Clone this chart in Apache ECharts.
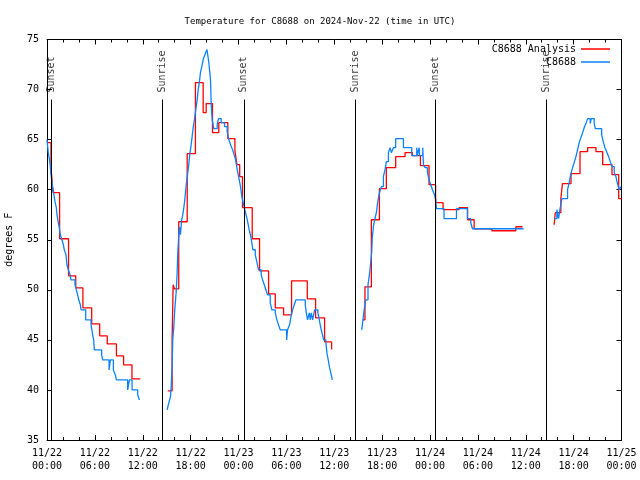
<!DOCTYPE html>
<html>
<head>
<meta charset="utf-8">
<script src="https://cdn.jsdelivr.net/npm/echarts@6/dist/echarts.min.js"></script>
<style>html,body{margin:0;padding:0;background:#fff}#c{width:640px;height:480px}</style>
</head>
<body>
<div id="c"></div>
<script>
// time in hours from 11/22 00:00 UTC, temperature in degrees F
const tickLabels = ['11/22\n00:00','11/22\n06:00','11/22\n12:00','11/22\n18:00','11/23\n00:00','11/23\n06:00','11/23\n12:00','11/23\n18:00','11/24\n00:00','11/24\n06:00','11/24\n12:00','11/24\n18:00','11/25\n00:00'];
const sunLabels = ['Sunset','Sunrise','Sunset','Sunrise','Sunset','Sunrise'];
const sunTimes = [0.58, 14.5, 24.67, 38.6, 48.68, 62.56];

const analysis1 = [[0.05,64.7],[0.5,62.2],[0.75,59.7],[1.58,55.1],[2.7,51.4],[3.6,50.2],[4.5,48.2],[5.6,46.6],[6.6,45.4],[7.55,44.6],[8.7,43.4],[9.6,42.5],[10.65,41.1],[11.7,41.1]];
const analysis2 = [[15.13,39.9],[15.68,45.0],[15.81,50.5],[15.97,50.1],[16.51,56.8],[17.57,63.6],[18.6,70.7],[19.57,67.7],[19.95,68.6],[20.74,65.7],[21.53,66.7],[22.66,65.1],[23.55,63.9],[23.8,62.5],[24.15,61.3],[24.5,58.2],[25.72,55.1],[26.64,51.9],[27.77,49.6],[28.61,48.2],[29.65,47.5],[30.65,50.9],[32.62,49.1],[33.66,47.2],[34.79,44.8],[35.67,44.1],[35.76,44.1]];
const analysis3 = [[39.56,47.0],[39.85,50.3],[40.65,57.0],[41.66,60.1],[42.53,62.2],[43.7,63.3],[44.87,63.7],[45.8,63.4],[46.8,62.4],[47.88,60.5],[48.7,58.7],[49.64,58.0],[51.64,58.2],[52.7,57.0],[53.53,56.1],[55.75,55.9],[58.76,56.3],[59.6,56.3]];
const analysis4 = [[63.56,56.5],[63.7,57.7],[64.4,59.1],[64.6,60.6],[65.67,61.6],[66.8,63.8],[67.75,64.2],[68.8,63.8],[69.64,62.5],[70.81,61.5],[71.65,59.1],[72,59.1]];

const obs1 = [[0,65.0],[0.16,63.7],[0.37,62.7],[0.5,61.5],[0.66,60.5],[0.83,59.7],[1.0,58.8],[1.17,58.2],[1.25,57.5],[1.42,56.7],[1.54,56.2],[1.67,55.5],[1.84,55.1],[2.05,54.5],[2.17,54.0],[2.38,53.5],[2.5,52.5],[2.67,52.0],[2.89,51.5],[3.0,51.0],[3.51,50.5],[3.68,50.0],[3.84,49.5],[3.97,49.0],[4.18,48.5],[4.27,48.0],[4.85,47.0],[5.52,46.5],[5.72,45.5],[5.85,45.0],[5.93,44.0],[6.85,43.5],[6.98,43.0],[7.78,42.0],[7.94,43.0],[8.32,42.0],[8.57,41.5],[8.7,41.0],[10.11,40.0],[10.33,41.0],[10.66,40.0],[11.37,39.5],[11.58,39.0],[11.65,39.0]];
const obs2 = [[15.06,38.0],[15.26,38.7],[15.47,39.3],[15.56,40.3],[15.68,42.3],[15.76,45.0],[15.89,46.3],[16.01,48.0],[16.19,49.8],[16.31,51.7],[16.39,53.7],[16.51,55.3],[16.6,56.3],[16.73,55.5],[16.85,56.8],[17.06,57.7],[17.23,58.7],[17.35,59.7],[17.48,60.7],[17.64,61.7],[17.77,62.5],[17.89,63.5],[18.07,64.5],[18.19,65.3],[18.32,66.2],[18.48,67.0],[18.65,68.0],[18.82,69.0],[18.95,70.0],[19.11,70.8],[19.23,71.7],[19.4,72.3],[19.57,73.0],[19.8,73.5],[20.05,74.0],[20.28,72.7],[20.49,71.0],[20.58,68.5],[20.7,67.0],[20.9,66.1],[21.33,66.5],[21.49,67.1],[21.83,66.7],[22.25,66.3],[22.58,65.8],[22.79,65.0],[23.0,64.5],[23.21,64.1],[23.41,63.6],[23.63,63.0],[23.84,62.0],[24.04,61.2],[24.25,60.3],[24.42,59.3],[24.59,58.7],[24.79,58.0],[25.01,57.3],[25.17,56.7],[25.34,56.0],[25.55,55.3],[25.67,54.7],[25.8,54.0],[26.1,53.5],[26.3,52.8],[26.51,52.0],[26.85,51.5],[27.01,51.0],[27.23,50.5],[27.43,50.0],[27.64,49.5],[27.98,48.7],[28.18,48.0],[28.61,47.7],[28.81,47.0],[29.02,46.5],[29.23,46.0],[30.03,45.0],[30.15,46.0],[30.4,46.5],[30.57,47.3],[30.78,48.0],[30.99,48.5],[31.2,49.0],[32.37,48.5],[32.5,47.7],[32.66,47.0],[32.87,47.7],[33.0,47.0],[33.12,47.7],[33.29,47.0],[33.54,48.0],[33.95,47.7],[34.13,47.0],[34.29,46.3],[34.46,45.7],[34.67,45.0],[34.96,44.7],[35.08,43.7],[35.29,42.8],[35.42,42.2],[35.63,41.5],[35.76,41.0],[35.8,41.0]];
const obs3 = [[39.44,46.0],[39.6,47.0],[39.75,48.0],[39.94,49.0],[40.23,50.5],[40.44,51.7],[40.56,52.7],[40.69,53.7],[40.77,55.2],[40.9,56.3],[41.07,57.0],[41.28,57.7],[41.4,58.5],[41.61,59.5],[41.82,60.1],[41.9,60.3],[42.16,61.3],[42.36,62.0],[42.53,62.8],[42.79,63.7],[42.99,64.2],[43.16,63.7],[43.41,64.2],[43.7,65.1],[44.67,64.2],[45.71,63.4],[46.34,64.2],[46.42,63.4],[46.63,64.2],[46.71,63.4],[47.09,64.2],[47.18,62.5],[47.38,62.2],[47.68,61.7],[47.88,61.0],[48.09,60.5],[48.31,60.0],[48.51,59.6],[48.72,59.0],[48.81,58.1],[49.76,57.1],[51.32,58.1],[52.7,57.1],[53.11,56.7],[53.32,56.1],[59.72,56.1]];
const obs4 = [[63.56,57.1],[63.9,58.0],[64.11,57.1],[64.28,58.0],[64.53,59.1],[65.24,60.0],[65.44,60.7],[65.66,61.6],[65.87,62.2],[66.07,62.7],[66.29,63.3],[66.5,64.0],[66.7,64.7],[66.91,65.2],[67.13,65.7],[67.33,66.2],[67.54,66.6],[67.75,67.1],[68.08,66.6],[68.21,67.1],[68.58,66.6],[68.71,66.1],[69.51,65.5],[69.71,64.8],[69.93,64.2],[70.14,63.8],[70.39,63.3],[70.59,62.8],[70.81,62.3],[71.09,61.7],[71.31,61.3],[71.43,60.8],[71.6,60.3],[71.72,60.0],[71.93,60.3],[72,60.3]];

const analysisName = 'C8688 Analysis';
const obsName = 'C8688';
const analysisSegments = [analysis1, analysis2, analysis3, analysis4];
const obsSegments = [obs1, obs2, obs3, obs4];

const FONT = 'DejaVu Sans Mono';
const RED = '#ff0000';
const BLUE = '#0a82ff';
const sunLineTop = 69;

const chart = echarts.init(document.getElementById('c'), null, {renderer: 'canvas'});

function stepSeries(name, color, data) {
  return {
    type: 'line', name: name, step: 'end', data: data,
    symbol: 'none', showSymbol: false, animation: false,
    lineStyle: {width: 1.3, color: color}, itemStyle: {color: color},
    xAxisIndex: 0, yAxisIndex: 0
  };
}

const series = [];
analysisSegments.forEach(d => series.push(stepSeries(analysisName, RED, d)));
obsSegments.forEach(d => series.push(stepSeries(obsName, BLUE, d)));
series.push({
  type: 'scatter', name: 'sun', symbolSize: 0, animation: false, silent: true,
  data: sunTimes.map((t, i) => ({value: [t, sunLineTop], name: sunLabels[i]})),
  label: {show: true, formatter: '{b}', rotate: 90, position: 'top', distance: 7,
          align: 'left', verticalAlign: 'middle', fontFamily: FONT, fontSize: 10, color: '#000'},
  markLine: {
    symbol: 'none', silent: true, animation: false,
    label: {show: false},
    lineStyle: {color: '#000', width: 1, type: 'solid'},
    data: sunTimes.map(t => [{coord: [t, sunLineTop]}, {coord: [t, 35]}])
  }
});

const tickCommon = {inside: true, length: 5, lineStyle: {color: '#000', width: 1}};
const minorCommon = {show: true, splitNumber: 3, length: 3, lineStyle: {color: '#000', width: 1}};

chart.setOption({
  animation: false,
  backgroundColor: '#fff',
  title: {
    text: 'Temperature for C8688 on 2024-Nov-22 (time in UTC)',
    left: 'center', top: 12,
    textStyle: {fontFamily: FONT, fontSize: 9, fontWeight: 'normal', color: '#000'}
  },
  legend: {
    data: [analysisName, obsName], orient: 'vertical', right: 30, top: 43, padding: 0,
    align: 'right', icon: 'rect', itemWidth: 29, itemHeight: 1.5, itemGap: 1,
    textStyle: {fontFamily: FONT, fontSize: 10, color: '#000', lineHeight: 12}
  },
  grid: {left: 47, right: 18.5, top: 39.5, bottom: 40, containLabel: false, outerBoundsMode: 'none'},
  xAxis: [{
    type: 'value', min: 0, max: 72, interval: 6, position: 'bottom',
    axisLine: {show: true, onZero: false, lineStyle: {color: '#000', width: 1}},
    axisTick: tickCommon, minorTick: minorCommon, splitLine: {show: false},
    axisLabel: {formatter: v => tickLabels[Math.round(v / 6)], fontFamily: FONT, fontSize: 10,
                color: '#000', margin: 7, lineHeight: 13, showMinLabel: true, showMaxLabel: true}
  }, {
    type: 'value', min: 0, max: 72, interval: 6, position: 'top',
    axisLine: {show: true, onZero: false, lineStyle: {color: '#000', width: 1}},
    axisTick: tickCommon, minorTick: minorCommon, splitLine: {show: false},
    axisLabel: {show: false}
  }],
  yAxis: [{
    type: 'value', min: 35, max: 75, interval: 5, position: 'left',
    name: 'degrees F', nameLocation: 'middle', nameGap: 33, nameRotate: 90,
    nameTextStyle: {fontFamily: FONT, fontSize: 10, color: '#000'},
    axisLine: {show: true, onZero: false, lineStyle: {color: '#000', width: 1}},
    axisTick: tickCommon, splitLine: {show: false},
    axisLabel: {fontFamily: FONT, fontSize: 10, color: '#000', margin: 8}
  }, {
    type: 'value', min: 35, max: 75, interval: 5, position: 'right',
    axisLine: {show: true, onZero: false, lineStyle: {color: '#000', width: 1}},
    axisTick: tickCommon, splitLine: {show: false}, axisLabel: {show: false}
  }],
  series: series
});
</script>
</body>
</html>
